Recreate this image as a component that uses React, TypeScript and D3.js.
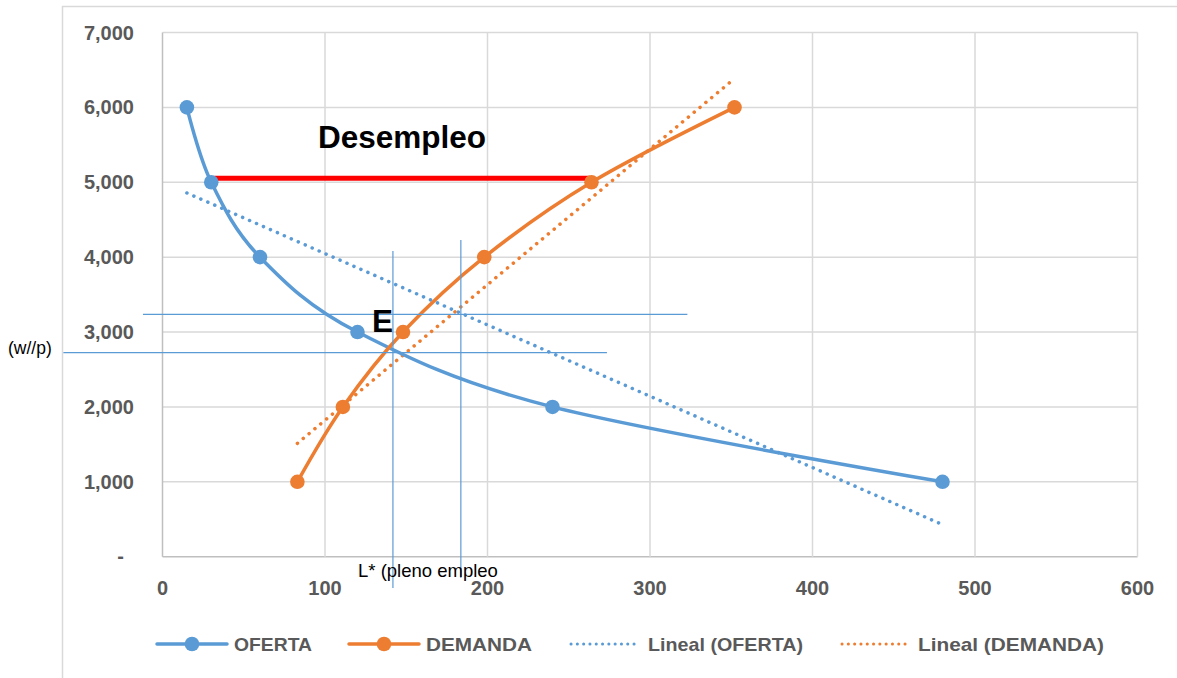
import React from "react";
import * as d3 from "d3";

// ---- data ----
const ofertaX = [15, 30, 60, 120, 240, 480];
const ofertaY = [6000, 5000, 4000, 3000, 2000, 1000];
const demandaX = [83, 111, 148, 198, 264, 352];
const demandaY = [1000, 2000, 3000, 4000, 5000, 6000];
const xTicks = [0, 100, 200, 300, 400, 500, 600];
const yTicks = [0, 1000, 2000, 3000, 4000, 5000, 6000, 7000];
const legendLabels = ["OFERTA", "DEMANDA", "Lineal (OFERTA)", "Lineal (DEMANDA)"];
// annotation values (data units)
const desempleoY = 5053;
const desempleoX = [32, 263];
const guideH = [
  { y: 3237, x0: -12, x1: 323 },
  { y: 2724, x0: -61, x1: 273.5 },
];
const guideV = [
  { x: 141.8, y0: 4082, y1: -418 },
  { x: 183.6, y0: 4229, y1: -284 },
];

const W = 1177;
const H = 678;
const BLUE = "#5B9BD5";
const ORANGE = "#ED7D31";
const GRID = "#D9D9D9";
const TXT = "#595959";

function regression(xs: number[], ys: number[]) {
  const mx = d3.mean(xs)!;
  const my = d3.mean(ys)!;
  let sxy = 0, sxx = 0;
  xs.forEach((x, i) => {
    sxy += (x - mx) * (ys[i] - my);
    sxx += (x - mx) * (x - mx);
  });
  const b = sxy / sxx;
  const a = my - b * mx;
  const x0 = d3.min(xs)!, x1 = d3.max(xs)!;
  return [
    [x0, a + b * x0],
    [x1, a + b * x1],
  ] as [number, number][];
}

export default function App() {
  const x = d3.scaleLinear().domain([0, 600]).range([162.5, 1137.5]);
  const y = d3.scaleLinear().domain([0, 7000]).range([556.7, 32.5]);
  const line = d3
    .line<[number, number]>()
    .x((d) => x(d[0]))
    .y((d) => y(d[1]))
    .curve(d3.curveCardinal.tension(0));
  const straight = d3
    .line<[number, number]>()
    .x((d) => x(d[0]))
    .y((d) => y(d[1]));

  const oferta = ofertaX.map((v, i) => [v, ofertaY[i]] as [number, number]);
  const demanda = demandaX.map((v, i) => [v, demandaY[i]] as [number, number]);
  const trendO = regression(ofertaX, ofertaY);
  const trendD = regression(demandaX, demandaY);
  const fmt = d3.format(",");

  const dotted = { strokeWidth: 3.5, strokeLinecap: "round" as const, strokeDasharray: "0.1 7.5", fill: "none" };

  const legendItems = [
    { x0: 157, x1: 227, tx: 234, tw: 78, color: BLUE, marker: true },
    { x0: 349, x1: 419, tx: 426, tw: 106, color: ORANGE, marker: true },
    { x0: 571, x1: 640, tx: 648, tw: 155, color: BLUE, marker: false },
    { x0: 842, x1: 911, tx: 918, tw: 186, color: ORANGE, marker: false },
  ];
  const ly = 644;

  return (
    <svg
      width={W}
      height={H}
      style={{ position: "absolute", left: 0, top: 0, background: "#fff" }}
      fontFamily="'Liberation Sans', Arial, sans-serif"
    >
      {/* outer frame */}
      <line x1={62.5} x2={62.5} y1={6} y2={H} stroke={GRID} strokeWidth={1.5} />
      <line x1={62} x2={W} y1={6.5} y2={6.5} stroke={GRID} strokeWidth={1.5} />

      {/* grid */}
      {yTicks.map((t) => (
        <line key={"gy" + t} x1={x(0)} x2={x(600)} y1={y(t)} y2={y(t)} stroke={t === 0 ? "#BFBFBF" : GRID} strokeWidth={1.5} />
      ))}
      {xTicks.map((t) => (
        <line key={"gx" + t} x1={x(t)} x2={x(t)} y1={y(0)} y2={y(7000)} stroke={t === 0 ? "#BFBFBF" : GRID} strokeWidth={1.5} />
      ))}

      {/* tick labels */}
      {yTicks.map((t) =>
        t === 0 ? (
          <text key={"ly" + t} x={124} y={y(t) + 6} textAnchor="end" fontSize={20} fontWeight="bold" fill={TXT}>
            -
          </text>
        ) : (
          <text key={"ly" + t} x={134} y={y(t) + 7} textAnchor="end" fontSize={20} fontWeight="bold" fill={TXT}>
            {fmt(t)}
          </text>
        )
      )}
      {xTicks.map((t) => (
        <text key={"lx" + t} x={x(t)} y={595} textAnchor="middle" fontSize={20} fontWeight="bold" fill={TXT}>
          {t}
        </text>
      ))}

      {/* trendlines */}
      <path d={straight(trendO)!} stroke={BLUE} {...dotted} />
      <path d={straight(trendD)!} stroke={ORANGE} {...dotted} />

      {/* series */}
      <path d={line(oferta)!} stroke={BLUE} strokeWidth={3.5} fill="none" strokeLinejoin="round" />
      <path d={line(demanda)!} stroke={ORANGE} strokeWidth={3.5} fill="none" strokeLinejoin="round" />

      {/* guides */}
      {guideH.map((g, i) => (
        <line key={"gh" + i} x1={x(g.x0)} x2={x(g.x1)} y1={y(g.y)} y2={y(g.y)} stroke={BLUE} strokeWidth={1.2} />
      ))}
      {guideV.map((g, i) => (
        <line key={"gv" + i} x1={x(g.x)} x2={x(g.x)} y1={y(g.y0)} y2={y(g.y1)} stroke={BLUE} strokeWidth={1.2} />
      ))}

      {/* desempleo */}
      <line x1={x(desempleoX[0])} x2={x(desempleoX[1])} y1={y(desempleoY)} y2={y(desempleoY)} stroke="#FF0000" strokeWidth={5} />

      {/* markers */}
      {oferta.map((d, i) => (
        <circle key={"mo" + i} cx={x(d[0])} cy={y(d[1])} r={7.3} fill={BLUE} />
      ))}
      {demanda.map((d, i) => (
        <circle key={"md" + i} cx={x(d[0])} cy={y(d[1])} r={7.3} fill={ORANGE} />
      ))}

      {/* annotations */}
      <text x={318} y={148} fontSize={31.5} fontWeight="bold" fill="#000">
        Desempleo
      </text>
      <text x={372} y={332} fontSize={31.5} fontWeight="bold" fill="#000">
        E
      </text>
      <text x={8} y={354} fontSize={17.5} fill="#000">
        (w//p)
      </text>
      <text x={358} y={577} fontSize={18.5} fill="#000">
        L* (pleno empleo
      </text>

      {/* legend */}
      {legendItems.map((it, i) => (
        <g key={"lg" + i}>
          {it.marker ? (
            <>
              <line x1={it.x0} x2={it.x1} y1={ly} y2={ly} stroke={it.color} strokeWidth={3.5} strokeLinecap="round" />
              <circle cx={(it.x0 + it.x1) / 2} cy={ly} r={7.3} fill={it.color} />
            </>
          ) : (
            <line x1={it.x0} x2={it.x1} y1={ly} y2={ly} stroke={it.color} {...dotted} strokeWidth={3} strokeDasharray="0.1 6.2" />
          )}
          <text
            x={it.tx}
            y={ly + 7}
            fontSize={19}
            fontWeight="bold"
            fill={TXT}
            textLength={it.tw}
            lengthAdjust="spacingAndGlyphs"
          >
            {legendLabels[i]}
          </text>
        </g>
      ))}
    </svg>
  );
}
